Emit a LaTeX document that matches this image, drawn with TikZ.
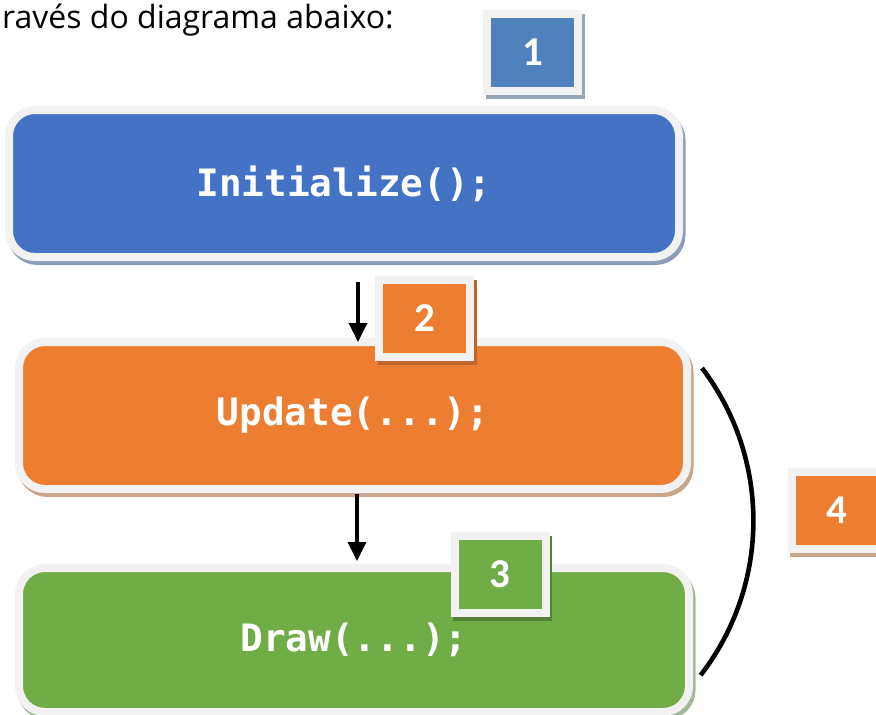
\documentclass[tikz,border=0pt]{standalone}
\usepackage{fontspec}
\setmainfont{Carlito}
\newfontfamily\codefont{DejaVu Sans Mono}
\newfontfamily\capfont{Open Sans}
\usetikzlibrary{arrows.meta}
\definecolor{cblue}{HTML}{4472C4}
\definecolor{lblue}{HTML}{4F81BD}
\definecolor{corange}{HTML}{ED7D31}
\definecolor{cgreen}{HTML}{70AD47}
\definecolor{rim}{HTML}{F2F2F2}
\definecolor{shblue}{HTML}{8E9DB5}
\definecolor{shorange}{HTML}{C9A58C}
\definecolor{shgreen}{HTML}{A3B898}
\definecolor{shlblue}{HTML}{97A5B6}
\definecolor{shlorange}{HTML}{C0652E}
\definecolor{shlgreen}{HTML}{548235}
\tikzset{
  codebox/.style 2 args={draw=rim, fill=#1, line width=8pt, rounded corners=26pt,
    minimum width=670pt, minimum height=147pt, inner sep=0pt,
    text=white, font=\codefont\bfseries\fontsize{37.7}{40}\selectfont,
    preaction={draw=#2, fill=#2, transform canvas={xshift=2.5pt,yshift=-4pt}}},
  numbox/.style 2 args={draw=rim, fill=#1, line width=8pt,
    minimum width=91pt, minimum height=77pt, inner sep=0pt,
    text=white, font=\bfseries\fontsize{41}{44}\selectfont,
    preaction={draw=#2, fill=#2, transform canvas={xshift=2.5pt,yshift=-4pt}}},
  flowarrow/.style={line width=3.5pt, -{Triangle[width=18pt,length=19pt]}},
  loopline/.style={line width=4.6pt},
}
\begin{document}
\begin{tikzpicture}[x=1pt,y=-1pt]
\useasboundingbox (0,0) rectangle (876,715);
\node[anchor=base west, inner sep=0pt, font=\capfont\fontsize{32}{36}\selectfont] (cap) at (2,28) {ravés do diagrama abaixo:};
% boxes
\node[codebox={cblue}{shblue}] (init) at (344,183.5) {Initialize();};
\node[codebox={corange}{shorange}, minimum width=668pt, minimum height=147pt] (upd) at (353,415.5) {Update(...);};
\node[codebox={cgreen}{shgreen}, minimum width=670pt, minimum height=144pt] (draw) at (354,640) {Draw(...);};
% arrows
\coordinate (a1s) at (358,282);
\coordinate (a1e) at (358,342);
\coordinate (a2s) at (357,494);
\coordinate (a2e) at (357,561);
\draw[flowarrow] (a1s) -- (a1e);
\draw[flowarrow] (a2s) -- (a2e);
% loop arc
\coordinate (l1) at (702,368);
\draw[loopline] (l1) arc[start angle=-37.2, end angle=37.7, radius=252.6];
% number boxes
\node[numbox={lblue}{shlblue}] (n1) at (532.5,52) {1};
\node[numbox={corange}{shlorange}] (n2) at (424.5,318.5) {2};
\node[numbox={cgreen}{shlgreen}] (n3) at (500,574) {3};
\node[numbox={corange}{shorange}] (n4) at (837,510) {4};
\end{tikzpicture}
\end{document}
